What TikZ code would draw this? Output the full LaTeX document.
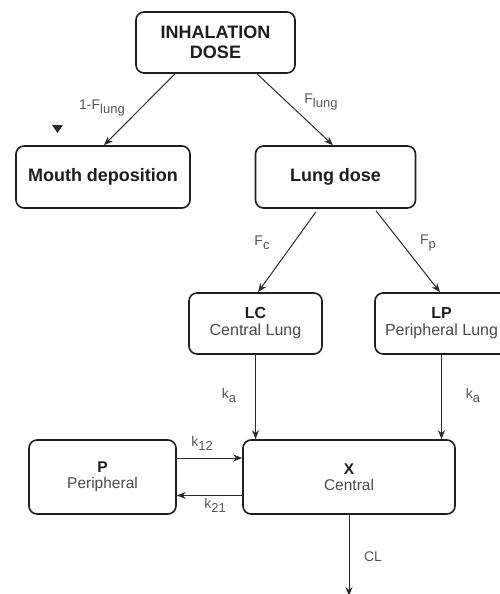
\documentclass[tikz,border=0pt]{standalone}
\usepackage{fontspec}
\setmainfont{Liberation Sans}
\usetikzlibrary{arrows.meta,calc}
\definecolor{boxc}{HTML}{1E1E1E}
\definecolor{arrc}{HTML}{2A2A2A}
\definecolor{subc}{HTML}{4A4A4A}
\definecolor{lblc}{HTML}{555555}
\newcommand{\lsub}[1]{\raisebox{-4pt}{\fontsize{13}{13}\selectfont #1}}
\begin{document}
\begin{tikzpicture}[x=1pt,y=-1pt,
  box/.style={draw=boxc, line width=1.6pt, rounded corners=8pt, align=center, inner sep=0pt, fill=white},
  bigbox/.style={box, font=\fontsize{18}{20}\selectfont\bfseries, text=boxc},
  twobox/.style={box, font=\fontsize{16}{17}\selectfont},
  lowbox/.style={box, font=\fontsize{15.5}{15.5}\selectfont},
  arr/.style={draw=arrc, line width=1pt, -{Stealth[length=9pt,width=7pt]}},
  lbl/.style={text=lblc, font=\fontsize{14}{14}\selectfont, inner sep=0pt}
]
\useasboundingbox (0,0) rectangle (500,594);

% boxes
\node[bigbox, minimum width=159pt, minimum height=61pt] (inh) at (215.5,42.5) {INHALATION\\DOSE};
\node[bigbox, minimum width=174pt, minimum height=62pt] (mouth) at (103,177) {Mouth deposition};
\node[bigbox, minimum width=160pt, minimum height=62pt] (lung) at (335.5,177) {Lung dose};
\node[twobox, minimum width=133pt, minimum height=61pt] (lc) at (255.5,323.5) {{\bfseries\color{boxc}LC}\\{\color{subc}Central Lung}};
\node[twobox, minimum width=133pt, minimum height=61pt] (lp) at (441.5,323.5) {{\bfseries\color{boxc}LP}\\{\color{subc}Peripheral Lung}};
\node[lowbox, minimum width=147pt, minimum height=74pt] (pp) at (102.5,477) {{\bfseries\color{boxc}P}\\{\color{subc}Peripheral}};
\node[lowbox, minimum width=212pt, minimum height=74pt] (xc) at (349,477) {{\bfseries\color{boxc}X}\\{\color{subc}Central}};

% connectors
\draw[arr] ([xshift=-40.5pt]inh.south) -- ([xshift=1pt]mouth.north);
\draw[arr] ([xshift=41.5pt]inh.south) -- ([xshift=-2.5pt]lung.north);
\draw[arr] ([xshift=-19.5pt,yshift=-3pt]lung.south) -- ([xshift=2.5pt]lc.north);
\draw[arr] ([xshift=40.5pt,yshift=-2pt]lung.south) -- ([xshift=-1.5pt]lp.north);
\draw[arr] (lc.south) -- (lc.south |- xc.north);
\draw[arr] (lp.south) -- (lp.south |- xc.north);
\draw[arr] (pp.east |- 0,458) -- (xc.west |- 0,458);
\draw[arr] (xc.west |- 0,495.5) -- (pp.east |- 0,495.5);
\coordinate (clend) at (349,596);
\draw[arr] (xc.south) -- (clend);

% stray arrowhead
\fill[arrc] (52,125) -- (63,125) -- (57.5,133) -- cycle;

% labels
\node[lbl] (l1) at (102,108) {1-F\lsub{lung}};
\node[lbl] (l2) at (321,102) {F\lsub{lung}};
\node[lbl] (l3) at (262,243) {F\lsub{c}};
\node[lbl] (l4) at (428,243) {F\lsub{p}};
\node[lbl] (l5) at (229,395) {k\lsub{a}};
\node[lbl] (l6) at (473,395) {k\lsub{a}};
\node[lbl] (l7) at (202,443) {k\lsub{12}};
\node[lbl] (l8) at (215,505) {k\lsub{21}};
\node[lbl] (l9) at (373,557) {CL};
\end{tikzpicture}
\end{document}
